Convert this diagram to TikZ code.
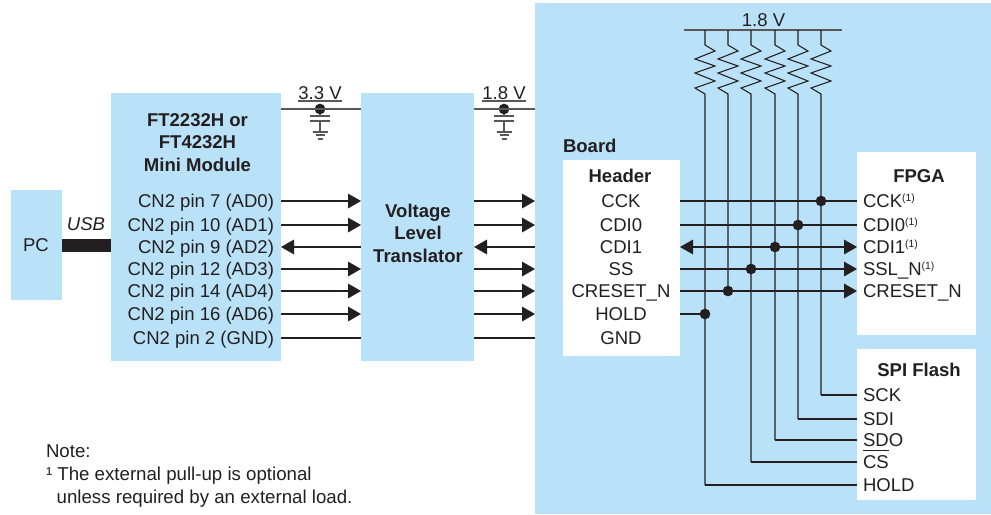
\documentclass[tikz,border=0pt]{standalone}
\usepackage{fontspec}
\setmainfont{Liberation Sans}
\usepackage{xcolor}
\usetikzlibrary{arrows.meta,positioning,calc}
\definecolor{bluebox}{RGB}{185,226,249}
\definecolor{inkdark}{RGB}{35,31,32}
\newcommand{\notemark}{\raisebox{4.3pt}{\fontsize{7.8}{8}\selectfont (1)}}

\begin{document}
\begin{tikzpicture}[
        x=0.75pt, y=-0.75pt,
        every node/.style={text=inkdark, outer sep=0pt},
        box/.style={rectangle, fill=bluebox, inner sep=0pt},
        whitebox/.style={rectangle, fill=white, inner sep=0pt},
        lbl/.style={inner sep=0pt, font=\fontsize{13.9}{16.9}\selectfont, text height=9.9pt, text depth=0pt},
        title/.style={inner sep=0pt, align=center, font=\fontsize{13.9}{16.9}\selectfont\bfseries},
        volt/.style={inner xsep=0pt, inner ysep=1pt, text depth=0pt, font=\fontsize{13.9}{16.9}\selectfont},
        dot/.style={circle, fill=inkdark, inner sep=0pt, minimum size=8pt},
        wire/.style={draw=inkdark, line width=0.8pt},
        thinwire/.style={draw=inkdark!75, line width=0.8pt},
        arr/.style={wire, -{Triangle[length=9.75pt,width=11pt]}},
        arrboth/.style={wire, {Triangle[length=9.75pt,width=11pt]}-{Triangle[length=9.75pt,width=11pt]}}
    ]
        \useasboundingbox (0,0) rectangle (991,514);

        % blocks
        \node[box, minimum width=342pt, minimum height=383.25pt] (board) at (763,258.5) {};
        \node[box, minimum width=38.25pt, minimum height=82.5pt] (pc) at (36.5,245) {};
        \node[box, minimum width=127.5pt, minimum height=201pt] (module) at (196,227) {};
        \node[box, minimum width=84.75pt, minimum height=201pt, right=60pt of module] (translator) {};
        \node[whitebox, minimum width=87.75pt, minimum height=147pt] (header) at (621.5,258) {};
        \node[whitebox, minimum width=89.25pt, minimum height=137.25pt] (fpga) at (916.5,243.5) {};
        \node[whitebox, minimum width=89.25pt, minimum height=113.25pt, below=10.5pt of fpga] (flash) {};

        % titles
        \node[lbl] (pclabel) at (36,245) {PC};
        \node[lbl, font=\fontsize{13.9}{16.9}\selectfont\itshape] (usb) at (86,224) {USB};
        \node[title] (moduletitle) at (197.5,142.5) {FT2232H or\\FT4232H\\Mini Module};
        \node[title] (translatortitle) at (418,233) {Voltage\\Level\\Translator};
        \node[title, anchor=west] (boardtitle) at (563,146) {Board};
        \node[title] (headertitle) at (620,176) {Header};
        \node[title] (fpgatitle) at (919,176) {FPGA};
        \node[title] (flashtitle) at (919,370) {SPI Flash};

        % module pins
        \node[lbl, anchor=east] (pin7) at (274,201) {CN2 pin 7 (AD0)};
        \node[lbl, anchor=east] (pin10) at (274,225) {CN2 pin 10 (AD1)};
        \node[lbl, anchor=east] (pin9) at (274,247) {CN2 pin 9 (AD2)};
        \node[lbl, anchor=east] (pin12) at (274,269) {CN2 pin 12 (AD3)};
        \node[lbl, anchor=east] (pin14) at (274,291) {CN2 pin 14 (AD4)};
        \node[lbl, anchor=east] (pin16) at (274,314) {CN2 pin 16 (AD6)};
        \node[lbl, anchor=east] (pin2) at (274,338) {CN2 pin 2 (GND)};

        % header pins
        \node[lbl] (hCCK) at (621,201) {CCK};
        \node[lbl] (hCDIa) at (621,225) {CDI0};
        \node[lbl] (hCDIb) at (621,247) {CDI1};
        \node[lbl] (hSS) at (621,269) {SS};
        \node[lbl] (hCRESET) at (621,291) {CRESET\_N};
        \node[lbl] (hHOLD) at (621,314) {HOLD};
        \node[lbl] (hGND) at (621,338) {GND};

        % fpga pins
        \node[lbl, anchor=west] (fCCK) at (863,201) {CCK\notemark};
        \node[lbl, anchor=west] (fCDIa) at (863,225) {CDI0\notemark};
        \node[lbl, anchor=west] (fCDIb) at (863,247) {CDI1\notemark};
        \node[lbl, anchor=west] (fSSL) at (863,269) {SSL\_N\notemark};
        \node[lbl, anchor=west] (fCRESET) at (863,291) {CRESET\_N};

        % flash pins
        \node[lbl, anchor=west] (sSCK) at (863,395) {SCK};
        \node[lbl, anchor=west] (sSDI) at (863,419) {SDI};
        \node[lbl, anchor=west] (sSDO) at (863,440) {SDO};
        \node[lbl, anchor=west] (sCS) at (863,462) {$\overline{\mbox{\rule{0pt}{12pt}CS}}$};
        \node[lbl, anchor=west] (sHOLD) at (863,485) {HOLD};

        % usb
        \draw[line width=9.75pt, draw=inkdark] (pc.east) -- (module.west |- pc.east);

        % module to translator
        \draw[arr] (module.east |- pin7) -- (translator.west |- pin7);
        \draw[arr] (module.east |- pin10) -- (translator.west |- pin10);
        \draw[arr] (translator.west |- pin9) -- (module.east |- pin9);
        \draw[arr] (module.east |- pin12) -- (translator.west |- pin12);
        \draw[arr] (module.east |- pin14) -- (translator.west |- pin14);
        \draw[arr] (module.east |- pin16) -- (translator.west |- pin16);
        \draw[wire] (module.east |- pin2) -- (translator.west |- pin2);

        % translator to board
        \draw[arr] (translator.east |- pin7) -- (board.west |- pin7);
        \draw[arr] (translator.east |- pin10) -- (board.west |- pin10);
        \draw[arr] (board.west |- pin9) -- (translator.east |- pin9);
        \draw[arr] (translator.east |- pin12) -- (board.west |- pin12);
        \draw[arr] (translator.east |- pin14) -- (board.west |- pin14);
        \draw[arr] (translator.east |- pin16) -- (board.west |- pin16);
        \draw[wire] (translator.east |- pin2) -- (board.west |- pin2);

        % supplies
        \node[dot] (dotA) at (320,109) {};
        \node[dot] (dotB) at (504,109) {};
        \node[volt, above=6pt of dotA.center] (voltA) {3.3 V};
        \node[volt, above=6pt of dotB.center] (voltB) {1.8 V};
        \draw[thinwire] (voltA.south west) -- (voltA.south east);
        \draw[thinwire] (voltB.south west) -- (voltB.south east);
        \draw[thinwire] (module.east |- dotA) -- (translator.west |- dotA);
        \draw[thinwire] (translator.east |- dotB) -- (board.west |- dotB);
        \foreach \sup in {dotA,dotB} {
            \draw[thinwire] (\sup) -- ++(0,7) ++(-10,0) -- ++(20,0);
            \draw[thinwire] (\sup) ++(-10,12) -- ++(20,0) ++(-10,0) -- ++(0,11) ++(-7.5,0) -- ++(15,0)
                ++(-12,3) -- ++(9,0) ++(-7,4) -- ++(5,0);
        }

        % pull-ups
        \coordinate (busleft) at (684,30);
        \coordinate (busright) at (842,30);
        \node[volt] (voltC) at (763.5,20) {1.8 V};
        \draw[thinwire, line width=1.2pt] (busleft) -- (busright);
        \coordinate (railA) at (705,30);
        \coordinate (railB) at (728,30);
        \coordinate (railC) at (751,30);
        \coordinate (railD) at (775,30);
        \coordinate (railE) at (798,30);
        \coordinate (railF) at (821,30);
        \foreach \rail/\pin in {railA/sHOLD,railB/fCRESET,railC/sCS,railD/sSDO,railE/sSDI,railF/sSCK} {
            \draw[wire] (\rail) -- ++(0,15) -- ++(10,6) -- ++(-20,8) -- ++(20,7) -- ++(-20,7) -- ++(20,8)
                -- ++(-20,7) -- ++(10,6) -- (\rail |- \pin);
        }

        % junctions
        \node[dot] (jCCK) at (railF |- hCCK) {};
        \node[dot] (jCDIa) at (railE |- hCDIa) {};
        \node[dot] (jCDIb) at (railD |- hCDIb) {};
        \node[dot] (jSS) at (railC |- hSS) {};
        \node[dot] (jCRESET) at (railB |- hCRESET) {};
        \node[dot] (jHOLD) at (railA |- hHOLD) {};

        % header to fpga
        \draw[wire] (header.east |- hCCK) -- (fpga.west |- fCCK);
        \draw[wire] (header.east |- hCDIa) -- (fpga.west |- fCDIa);
        \draw[arrboth] (header.east |- hCDIb) -- (fpga.west |- fCDIb);
        \draw[arr] (header.east |- hSS) -- (fpga.west |- fSSL);
        \draw[arr] (header.east |- hCRESET) -- (fpga.west |- fCRESET);
        \draw[wire] (header.east |- hHOLD) -- (jHOLD);

        % rails to flash
        \draw[wire] (railF |- sSCK) -- (flash.west |- sSCK);
        \draw[wire] (railE |- sSDI) -- (flash.west |- sSDI);
        \draw[wire] (railD |- sSDO) -- (flash.west |- sSDO);
        \draw[wire] (railC |- sCS) -- (flash.west |- sCS);
        \draw[wire] (railA |- sHOLD) -- (flash.west |- sHOLD);

        % note
        \node[anchor=north west, inner sep=0pt, align=left, font=\fontsize{14}{17.25}\selectfont] (note) at (46,445)
            {Note:\\¹ The external pull-up is optional\\\hspace*{8pt}unless required by an external load.};
    \end{tikzpicture}
\end{document}
